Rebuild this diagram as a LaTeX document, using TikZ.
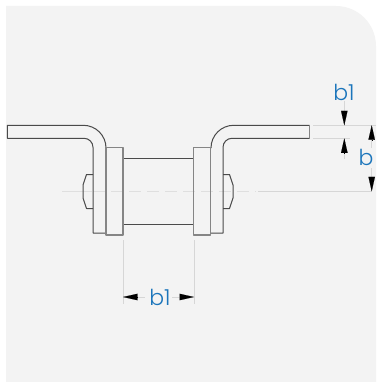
\documentclass[tikz,border=0pt]{standalone}
\usepackage{fontspec}
\setmainfont{Poppins}[UprightFont=* Light]
\usetikzlibrary{arrows.meta}
\definecolor{panel}{HTML}{F3F3F3}
\definecolor{partline}{HTML}{4A4A4A}
\definecolor{flangeline}{HTML}{858585}
\definecolor{dimline}{HTML}{D6D6D6}
\definecolor{labelblue}{HTML}{1B75BB}
\tikzset{
  part/.style={draw=partline,line width=1pt,line join=round},
  flange/.style={draw=flangeline,line width=1.3pt,line join=round},
  centerline/.style={draw=dimline!70!panel,line width=0.7pt},
  extline/.style={draw=dimline,line width=0.9pt},
  dimarrow/.style={-{Triangle[length=14.5pt,width=6.5pt]},black,line width=0.1pt,shorten >=0pt},
  dimlabel/.style={text=labelblue,font=\fontsize{22}{22}\selectfont,inner sep=0pt}
}
\begin{document}
\begin{tikzpicture}[x=1pt,y=-1pt]
\useasboundingbox (0,0) rectangle (376,382);
% panel
\fill[panel] (6,382) -- (6,6) -- (336,6) arc[start angle=-90,end angle=0,radius=40] -- (376,382) -- cycle;
% centre line
\draw[centerline] (62,191.3) -- (92,191.3);
\draw[centerline,dash pattern=on 12pt off 6pt] (93,191.3) -- (256,191.3);
\draw[extline] (258,191.3) -- (372,191.3);
% cylinder
\draw[part] (123,158) -- (193.5,158);
\draw[part] (123,224) -- (193.5,224);
% bolt heads
\draw[part] (93,174.5) -- (86.5,174.5) -- (83,185) -- (83,198) -- (86.5,208.5) -- (93,208.5);
\draw[part] (223,174.5) -- (229.5,174.5) -- (233,185) -- (233,198) -- (229.5,208.5) -- (223,208.5);
% brackets
\draw[part] (106,148) arc[start angle=0,end angle=-90,radius=22.7] -- (7.3,125.3) -- (7.3,138.3) -- (84,138.3)
  arc[start angle=-90,end angle=0,radius=9] -- (93,233) -- (106,233);
\draw[part] (211,148) arc[start angle=180,end angle=270,radius=22.7] -- (309.5,125.3);
\draw[part] (309.5,138.3) -- (232,138.3) arc[start angle=270,end angle=180,radius=9] -- (223,233) -- (210.5,233);
\draw[flangeline,line width=1.1pt] (309.5,125.3) -- (309.5,138.3);
% flanges
\draw[flange] (106,147.5) rectangle (123,235);
\draw[flange] (193.5,147.5) rectangle (210.5,235);
% extension lines
\draw[extline] (313,125.3) -- (376,125.3);
\draw[extline] (313,138.3) -- (350,138.3);
\draw[extline] (123,240) -- (123,304);
\draw[extline] (194,240) -- (194,304);
% labels
\node[dimlabel] (labA) at (344,92) {b1};
\node[dimlabel] (labB) at (366,157) {b};
\node[dimlabel] (labC) at (160,297) {b1};
% dimension b1 top
\coordinate (a1) at (344.3,101);
\coordinate (a2) at (344.3,125.3);
\coordinate (a3) at (344.3,159);
\coordinate (a4) at (344.3,138.3);
\draw[extline] (a1) -- (344.3,112);
\draw[extline] (a3) -- (344.3,152);
\draw[dimarrow] (344.3,110.8) -- (a2);
\draw[dimarrow] (344.3,152.8) -- (a4);
% dimension b
\coordinate (b1) at (371.7,125.3);
\coordinate (b2) at (371.7,191.3);
\draw[extline] (371.7,139) -- (371.7,148);
\draw[extline] (371.7,168) -- (371.7,177);
\draw[dimarrow] (371.7,139.8) -- (b1);
\draw[dimarrow] (371.7,176.8) -- (b2);
% dimension b1 bottom
\coordinate (c1) at (123,297);
\coordinate (c2) at (194,297);
\draw[extline] (138,297) -- (145,297);
\draw[extline] (172,297) -- (179,297);
\draw[dimarrow] (137.5,297) -- (c1);
\draw[dimarrow] (179.5,297) -- (c2);
\end{tikzpicture}
\end{document}
